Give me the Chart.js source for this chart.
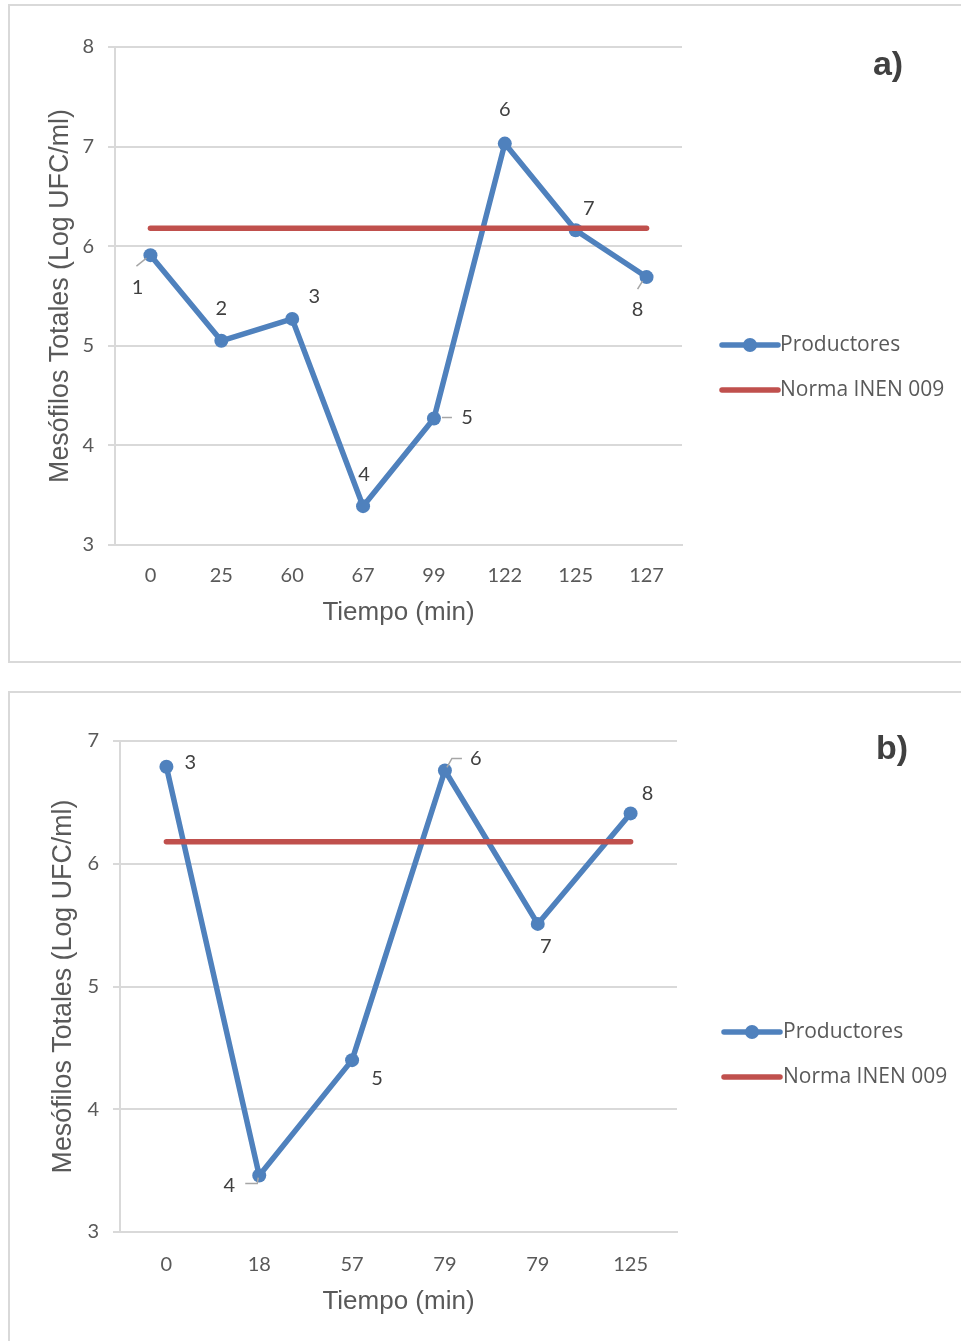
<!DOCTYPE html>
<html><head><meta charset="utf-8">
<script src="https://cdn.jsdelivr.net/npm/chart.js@4.4.1/dist/chart.umd.min.js"></script>
<style>
html,body{margin:0;padding:0;background:#fff;overflow:hidden;width:961px;height:1341px;}
.panel{position:absolute;border:2px solid #d9d9d9;box-sizing:border-box;}
#pa{left:8px;top:4px;width:970px;height:659px;}
#pb{left:8px;top:691px;width:970px;height:700px;}
canvas{position:absolute;left:0;}
#ca{top:0;}
#cb{top:680px;}
</style></head><body>
<div class="panel" id="pa"></div><div class="panel" id="pb"></div>
<canvas id="ca" width="961" height="670"></canvas>
<canvas id="cb" width="961" height="661"></canvas>
<script>
// ---- Data: chart a ----
const categoriesA = ['0', '25', '60', '67', '99', '122', '125', '127'];
const productoresA = [5.91, 5.05, 5.27, 3.39, 4.27, 7.03, 6.16, 5.69];
const normaA = [6.18, 6.18, 6.18, 6.18, 6.18, 6.18, 6.18, 6.18];
const pointLabelsA = ['1', '2', '3', '4', '5', '6', '7', '8'];
const yTicksA = [3, 4, 5, 6, 7, 8];

// ---- Data: chart b ----
const categoriesB = ['0', '18', '57', '79', '79', '125'];
const productoresB = [6.79, 3.46, 4.40, 6.76, 5.51, 6.41];
const normaB = [6.18, 6.18, 6.18, 6.18, 6.18, 6.18];
const pointLabelsB = ['3', '4', '5', '6', '7', '8'];
const yTicksB = [3, 4, 5, 6, 7];

const seriesNames = ['Productores', 'Norma INEN 009'];
const xTitle = 'Tiempo (min)';
const yTitle = 'Mesófilos Totales (Log UFC/ml)';

const BLUE = '#4f81bd';
const RED = '#c0504d';
const GRID = '#d9d9d9';
const TXT = '#595959';

const decorPlugin = {
  id: 'decor',
  afterDatasetsDraw(chart, args, o) {
    const ctx = chart.ctx;
    const meta = chart.getDatasetMeta(0);
    ctx.save();
    // leader lines
    ctx.strokeStyle = '#a6a6a6';
    ctx.lineWidth = 1.5;
    (o.leaders || []).forEach(l => {
      const el = meta.data[l.i];
      ctx.beginPath();
      l.pts.forEach((p, k) => {
        if (k === 0) ctx.moveTo(el.x + p[0], el.y + p[1]);
        else ctx.lineTo(el.x + p[0], el.y + p[1]);
      });
      ctx.stroke();
    });
    // point labels
    ctx.font = '20px Lato';
    ctx.fillStyle = '#404040';
    ctx.textAlign = 'center';
    ctx.textBaseline = 'middle';
    meta.data.forEach((el, i) => {
      const off = o.offsets[i];
      ctx.fillText(o.labels[i], el.x + off[0], el.y + off[1]);
    });
    // legend
    chart.data.datasets.forEach((ds, i) => {
      const y = o.legend.y[i];
      const x0 = o.legend.x0, x1 = o.legend.x1;
      ctx.strokeStyle = ds.borderColor;
      ctx.lineWidth = ds.borderWidth;
      ctx.lineCap = 'round';
      ctx.beginPath();
      ctx.moveTo(x0, y);
      ctx.lineTo(x1, y);
      ctx.stroke();
      if (ds.pointRadius > 0) {
        ctx.fillStyle = ds.borderColor;
        ctx.beginPath();
        ctx.arc((x0 + x1) / 2, y, ds.pointRadius, 0, Math.PI * 2);
        ctx.fill();
      }
      ctx.fillStyle = TXT;
      ctx.font = '21px "Open Sans"';
      ctx.textAlign = 'left';
      ctx.textBaseline = 'middle';
      ctx.fillText(ds.label, o.legend.tx, y);
    });
    // panel letter
    ctx.fillStyle = '#404040';
    ctx.font = 'bold 34px "Liberation Sans"';
    ctx.textAlign = 'center';
    ctx.textBaseline = 'middle';
    ctx.fillText(o.letter.text, o.letter.x, o.letter.y);
    ctx.restore();
  }
};

function makeChart(id, cats, prod, norma, yTicks, layout, decor) {
  return new Chart(document.getElementById(id), {
    type: 'line',
    data: {
      labels: cats,
      datasets: [
        {
          label: seriesNames[0], data: prod, borderColor: BLUE, backgroundColor: BLUE,
          borderWidth: 5.5, pointRadius: 7, pointBackgroundColor: BLUE, pointBorderWidth: 0,
          pointHoverRadius: 7, tension: 0, borderJoinStyle: 'round'
        },
        {
          label: seriesNames[1], data: norma, borderColor: RED, backgroundColor: RED,
          borderWidth: 5.5, pointRadius: 0, pointHoverRadius: 0, borderCapStyle: 'round', order: -1
        }
      ]
    },
    options: {
      responsive: false,
      animation: false,
      devicePixelRatio: 1,
      layout: { padding: layout.padding },
      plugins: { legend: { display: false }, tooltip: { enabled: false }, decor: decor },
      scales: {
        x: {
          type: 'category', offset: true,
          grid: { display: false, drawTicks: false },
          border: { display: true, color: GRID, width: 2 },
          ticks: { color: TXT, font: { family: 'Lato', size: 20 }, padding: layout.xTickPad, maxRotation: 0, autoSkip: false },
          title: { display: true, text: xTitle, color: TXT, font: { family: '"Liberation Sans"', size: 26 }, padding: { top: 0, bottom: layout.xTitlePad } },
          afterFit(s) { s.height = 100; }
        },
        y: {
          min: yTicks[0], max: yTicks[yTicks.length - 1],
          ticks: { stepSize: 1, color: TXT, font: { family: 'Lato', size: 20 }, padding: 14 },
          grid: { color: GRID, lineWidth: 2, tickLength: 7 },
          border: { display: true, color: GRID, width: 2 },
          title: { display: true, text: yTitle, color: TXT, font: { family: '"Liberation Sans"', size: 26.8 }, padding: { top: layout.yTitlePad, bottom: 0 } },
          afterFit(s) { s.width = layout.yWidth; }
        }
      }
    },
    plugins: [decorPlugin]
  });
}

makeChart('ca', categoriesA, productoresA, normaA, yTicksA,
  { padding: { left: 0, top: 47, right: 279, bottom: 25 }, xTickPad: 19, xTitlePad: 17, yTitlePad: 45, yWidth: 115 },
  {
    labels: pointLabelsA,
    offsets: [[-13, 32], [0, -32], [22, -22], [1, -32], [33, -1], [0, -34], [13, -22], [-9, 32]],
    leaders: [
      { i: 0, pts: [[-14, 11], [-4, 3]] },
      { i: 4, pts: [[8, -1], [18, -1]] },
      { i: 7, pts: [[-9, 12], [-4, 4]] }
    ],
    legend: { x0: 722, x1: 778, tx: 780, y: [345, 390] },
    letter: { text: 'a)', x: 888, y: 66 }
  });

makeChart('cb', categoriesB, productoresB, normaB, yTicksB,
  { padding: { left: 0, top: 61, right: 284, bottom: 9 }, xTickPad: 21, xTitlePad: 15, yTitlePad: 48, yWidth: 120 },
  {
    labels: pointLabelsB,
    offsets: [[24, -4], [-30, 10], [25, 18], [31, -12], [8, 23], [17, -20]],
    leaders: [
      { i: 1, pts: [[-14, 8], [-2, 8], [-1, 2]] },
      { i: 3, pts: [[2, -3], [7, -12], [17, -12]] }
    ],
    legend: { x0: 724, x1: 780, tx: 783, y: [352, 397] },
    letter: { text: 'b)', x: 892, y: 70 }
  });
</script>
</body></html>
